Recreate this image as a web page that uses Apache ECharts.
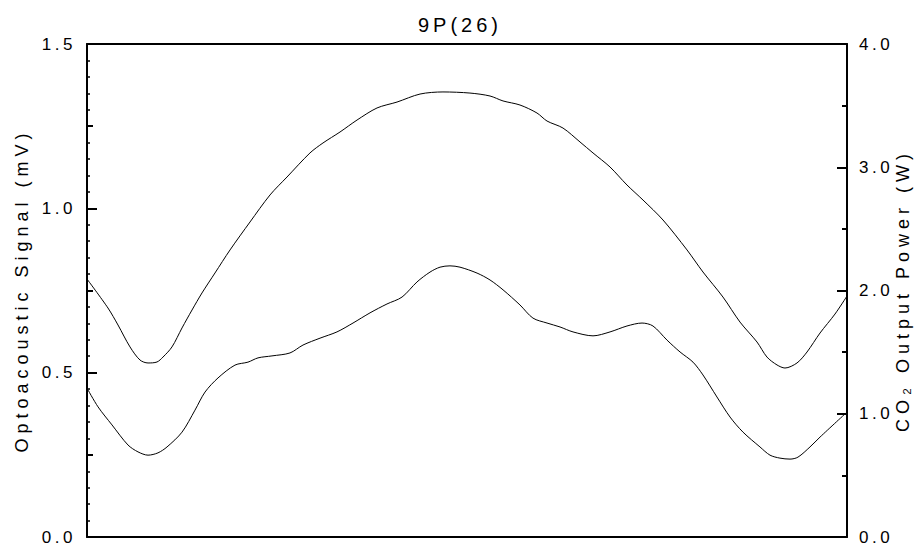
<!DOCTYPE html>
<html>
<head>
<meta charset="utf-8">
<script src="https://cdn.jsdelivr.net/npm/echarts@6/dist/echarts.min.js"></script>
<style>html,body{margin:0;padding:0;background:#fff}#c{width:920px;height:550px}#c svg text{letter-spacing:3.5px}</style>
</head>
<body>
<div id="c"></div>
<script>
// x positions (arbitrary tuning units, 0-100 across the plot)
const upperX = [0,2.76,4.08,5.66,6.97,8.03,9.21,10.0,11.18,12.5,13.82,15.13,16.84,18.82,21.45,24.08,26.32,29.34,31.05,33.29,35.53,38.16,40.79,43.82,46.84,50.39,53.03,54.74,56.97,59.21,60.53,62.63,64.87,66.58,68.82,71.05,73.16,75.79,78.95,81.05,83.68,85.92,88.16,89.47,90.79,91.84,93.42,94.74,96.45,98.42,100];
// CO2 output power (W), right axis
const powerW = [2.093,1.858,1.720,1.542,1.436,1.412,1.420,1.460,1.542,1.696,1.842,1.980,2.142,2.329,2.556,2.775,2.921,3.116,3.197,3.286,3.383,3.481,3.529,3.594,3.611,3.602,3.578,3.538,3.505,3.440,3.375,3.318,3.205,3.116,3.002,2.856,2.734,2.572,2.329,2.150,1.947,1.744,1.582,1.460,1.396,1.371,1.412,1.501,1.655,1.809,1.955];

const lowerX = [0,1.45,3.29,5.39,6.71,8.03,9.34,10.53,12.5,14.21,15.53,17.24,19.47,21.18,22.5,24.34,26.71,28.42,30.66,32.89,35.0,37.24,39.47,41.45,43.42,45.13,46.45,47.76,49.08,51.32,53.03,54.74,56.97,58.68,60.53,62.24,63.95,66.58,68.82,71.05,73.03,74.47,76.32,78.03,79.74,81.05,82.89,84.61,86.32,88.55,89.87,91.18,92.5,93.55,95.13,96.45,100];
// Optoacoustic signal (mV), left axis
const signalMV = [0.453,0.396,0.341,0.280,0.259,0.249,0.256,0.274,0.319,0.386,0.441,0.484,0.523,0.532,0.545,0.551,0.560,0.584,0.605,0.624,0.651,0.682,0.709,0.730,0.776,0.806,0.821,0.825,0.821,0.803,0.782,0.752,0.706,0.666,0.651,0.639,0.624,0.612,0.624,0.642,0.651,0.642,0.599,0.563,0.532,0.493,0.426,0.365,0.319,0.274,0.249,0.240,0.237,0.243,0.274,0.304,0.380];

const leftTicks = ['0.0','0.5','1.0','1.5'];
const rightTicks = ['0.0','1.0','2.0','3.0','4.0'];

const FONT = 'Liberation Sans, Arial, sans-serif';
const chart = echarts.init(document.getElementById('c'), null, {renderer:'svg'});
const axisLineStyle = {color:'#000', width:2};
chart.setOption({
  animation:false,
  title:{text:'9P(26)', left:'center', top:10, textStyle:{fontFamily:FONT, fontSize:20, fontWeight:'normal', color:'#000'}},
  grid:{left:87, right:73, top:44, bottom:13, containLabel:false},
  xAxis:[
    {type:'value', min:0, max:100, position:'bottom', axisLine:{onZero:false, lineStyle:axisLineStyle}, axisTick:{show:false}, axisLabel:{show:false}, splitLine:{show:false}},
    {type:'value', min:0, max:100, position:'top', axisLine:{onZero:false, lineStyle:axisLineStyle}, axisTick:{show:false}, axisLabel:{show:false}, splitLine:{show:false}}
  ],
  yAxis:[
    {type:'value', min:0, max:1.5, interval:0.5, position:'left',
     name:'Optoacoustic Signal (mV)', nameLocation:'middle', nameGap:56, nameRotate:90,
     nameTextStyle:{fontFamily:FONT, fontSize:18, color:'#000'},
     axisLine:{show:true, onZero:false, lineStyle:axisLineStyle},
     axisTick:{show:true, inside:true, length:10, lineStyle:{color:'#000', width:2}},
     minorTick:{show:true, splitNumber:10, length:3, lineStyle:{color:'#000', width:1.5}},
     axisLabel:{margin:11, fontFamily:FONT, fontSize:17, color:'#000', formatter:(v)=>leftTicks[Math.round(v/0.5)]},
     splitLine:{show:false}},
    {type:'value', min:0, max:4, interval:1, position:'right',
     name:'CO\u2082 Output Power (W)', nameLocation:'middle', nameGap:46, nameRotate:90,
     nameTextStyle:{fontFamily:FONT, fontSize:18, color:'#000'},
     axisLine:{show:true, onZero:false, lineStyle:axisLineStyle},
     axisTick:{show:true, inside:true, length:10, lineStyle:{color:'#000', width:2}},
     axisLabel:{margin:12, fontFamily:FONT, fontSize:17, color:'#000', formatter:(v)=>rightTicks[Math.round(v)]},
     splitLine:{show:false}},
    {type:'value', min:0, max:1.5, interval:0.25, position:'left',
     axisLine:{show:false, onZero:false}, axisTick:{show:true, inside:true, length:6, lineStyle:{color:'#000', width:2}},
     axisLabel:{show:false}, splitLine:{show:false}},
    {type:'value', min:0, max:4, interval:0.5, position:'right',
     axisLine:{show:false, onZero:false}, axisTick:{show:true, inside:true, length:5, lineStyle:{color:'#000', width:2}},
     axisLabel:{show:false}, splitLine:{show:false}}
  ],
  series:[
    {type:'line', yAxisIndex:1, data:upperX.map((x,i)=>[x,powerW[i]]), showSymbol:false, symbol:'none', lineStyle:{color:'#000', width:1}, smooth:0.3},
    {type:'line', yAxisIndex:0, data:lowerX.map((x,i)=>[x,signalMV[i]]), showSymbol:false, symbol:'none', lineStyle:{color:'#000', width:1}, smooth:0.3}
  ]
});
function spaceText(){
  document.querySelectorAll('#c svg text').forEach(t=>{
    const s = t.textContent || '';
    t.style.letterSpacing = s.length > 8 ? '5px' : (s.length > 3 ? '4px' : '3.5px');
  });
}
spaceText();
chart.on('finished', spaceText);
</script>
</body>
</html>
